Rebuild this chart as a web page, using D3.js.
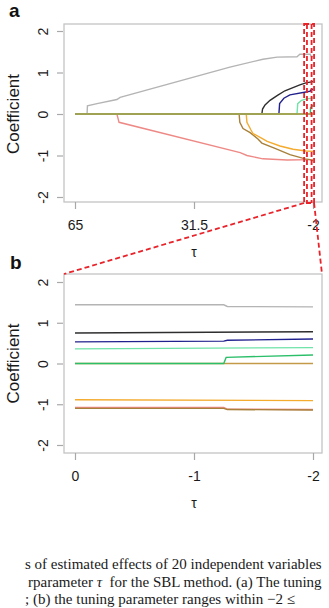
<!DOCTYPE html>
<html>
<head>
<meta charset="utf-8">
<script src="https://cdn.jsdelivr.net/npm/d3@7"></script>
<style>
  body { margin: 0; background: #fff; }
  svg { display: block; }
</style>
</head>
<body>
<svg id="chart" width="329" height="608"></svg>
<script>

// tick labels
const tauTicksA = [65, 31.5, -2];
const tauTicksB = [0, -1, -2];
const coefTicks = [-2, -1, 0, 1, 2];

// panel a: [tau, coefficient] paths
const grayA = [[65,0],[61.6,0],[61.5,0.2],[58.8,0.25],[53.2,0.35],[52.3,0.4],[21.4,1.13],[12.1,1.32],[8.1,1.37],[2.5,1.38],[1.7,1.44],[-1.2,1.44],[-1.4,1.4],[-2,1.38]];
const salmonA = [[65,0],[53.2,0],[52.6,-0.2],[18.5,-0.93],[16.6,-1.0],[12.1,-1.08],[5.3,-1.11],[-2,-1.1]];
const brownA = [[65,0],[18.8,0],[18.6,-0.2],[17.7,-0.35],[15.7,-0.45],[13.5,-0.6],[12.4,-0.7],[8.7,-0.83],[4.5,-0.98],[0.2,-1.08],[-1.2,-1.1],[-2,-1.13]];
const orangeA = [[65,0],[16.8,0],[16.6,-0.2],[15.5,-0.38],[14.9,-0.47],[12.5,-0.58],[10.9,-0.66],[7.3,-0.77],[3.6,-0.85],[0,-0.89],[-2,-0.9]];
const blackA = [[65,0],[12.4,0],[12.2,0.12],[11.5,0.22],[10.1,0.33],[8,0.45],[5.9,0.56],[1.7,0.7],[0,0.75],[-2,0.78]];
const navyA = [[65,0],[7.6,0],[7.4,0.25],[6.2,0.38],[4.5,0.46],[0,0.53],[-1.25,0.55],[-1.3,0.57],[-2,0.6]];
const aquaA = [[65,0],[2.5,0],[2.3,0.25],[1.2,0.33],[0,0.36],[-2,0.39]];
const greenA = [[65,0],[-1.25,0],[-1.3,0.15],[-2,0.21]];
const zeroA = [[65,0],[-2,0]];

// panel b: zoom on -2 <= tau <= 0
const grayB = [[0,1.44],[-1.25,1.44],[-1.28,1.4],[-2,1.39]];
const blackB = [[0,0.75],[-2,0.78]];
const navyB = [[0,0.53],[-1.25,0.55],[-1.28,0.57],[-2,0.6]];
const aquaB = [[0,0.36],[-2,0.39]];
const greenB = [[0,0],[-1.25,0],[-1.27,0.15],[-2,0.21]];
const zeroB = [[0,0],[-2,0]];
const orangeB = [[0,-0.89],[-2,-0.91]];
const salmonB = [[0,-1.08],[-1.25,-1.08],[-1.28,-1.12],[-2,-1.13]];
const brownB = [[0,-1.1],[-1.25,-1.1],[-1.28,-1.13],[-2,-1.14]];

const colors = {
    gray: '#b4b4b4', salmon: '#ee8a86', brown: '#a8803a', orange: '#f4ab2e',
    black: '#2e2e2e', navy: '#22228f', aqua: '#6fe3a8', green: '#2cbf6a', zero: '#c39a48'
};

// R style labels: plain hyphen for negatives
const rLabel = d => (d < 0 ? '-' : '') + Math.abs(d);

const svg = d3.select('#chart');

function drawPanel(opt) {
    const {box, xDomain, xRange, yRange, ticks, series, label} = opt;

    const xScale = d3.scaleLinear().domain(xDomain).range(xRange);
    const yScale = d3.scaleLinear().domain([-2, 2]).range(yRange);

    const g = svg.append('g');

    const line = d3.line()
        .x(d => xScale(d[0]))
        .y(d => yScale(d[1]));

    g.selectAll('.path')
        .data(series)
        .join('path')
            .attr('fill', 'none')
            .attr('stroke', d => d.color)
            .attr('stroke-width', 1.4)
            .attr('d', d => line(d.values));

    // frame
    g.append('rect')
        .attr('x', box.x0)
        .attr('y', box.y0)
        .attr('width', box.x1 - box.x0)
        .attr('height', box.y1 - box.y0)
        .attr('fill', 'none')
        .attr('stroke', '#c4c4c4')
        .attr('stroke-width', 1.3);

    // axes
    const xAxis = g.append('g')
        .attr('transform', `translate(0, ${box.y1})`)
        .call(d3.axisBottom(xScale).tickValues(ticks).tickSize(7).tickSizeOuter(0).tickFormat(rLabel));
    const yAxis = g.append('g')
        .attr('transform', `translate(${box.x0 - 1}, 0)`)
        .call(d3.axisLeft(yScale).tickValues(coefTicks).tickSize(6).tickSizeOuter(0).tickFormat(rLabel));

    [xAxis, yAxis].forEach(a => {
        a.select('.domain').remove();
        a.selectAll('line').attr('stroke', '#a8a8a8').attr('stroke-width', 1.2);
        a.selectAll('text')
            .style('font-family', 'Liberation Sans, Arial, sans-serif')
            .style('font-size', '14px')
            .attr('fill', '#1a1a1a');
    });
    xAxis.selectAll('text').attr('y', 27.5).attr('dy', 0);
    yAxis.selectAll('.tick text')
        .attr('x', 0).attr('y', 0).attr('dy', 0)
        .attr('transform', 'translate(-15, 0) rotate(-90)')
        .style('text-anchor', 'middle');

    g.append('text')
        .attr('transform', `translate(19, ${(yRange[0] + yRange[1]) / 2}) rotate(-90)`)
        .style('text-anchor', 'middle')
        .style('font-family', 'Liberation Sans, Arial, sans-serif')
        .style('font-size', '17px')
        .attr('fill', '#1a1a1a')
        .text('Coefficient');

    g.append('text')
        .attr('x', (xRange[0] + xRange[1]) / 2)
        .attr('y', box.y1 + 55)
        .style('text-anchor', 'middle')
        .style('font-family', 'Liberation Sans, Arial, sans-serif')
        .style('font-size', '14px')
        .attr('fill', '#1a1a1a')
        .text('τ');

    g.append('text')
        .attr('x', label.x)
        .attr('y', label.y)
        .style('font-family', 'Liberation Sans, Arial, sans-serif')
        .style('font-size', '19px')
        .style('font-weight', 'bold')
        .attr('fill', '#111')
        .text(label.text);

    return {xScale, yScale};
}

const panelA = drawPanel({
    box: {x0: 64, x1: 322, y0: 24, y1: 202},
    xDomain: [65, -2], xRange: [75, 313], yRange: [197, 31],
    ticks: tauTicksA,
    label: {text: 'a', x: 9, y: 17},
    series: [
        {values: grayA, color: colors.gray},
        {values: salmonA, color: colors.salmon},
        {values: brownA, color: colors.brown},
        {values: orangeA, color: colors.orange},
        {values: blackA, color: colors.black},
        {values: navyA, color: colors.navy},
        {values: aquaA, color: colors.aqua},
        {values: greenA, color: colors.green},
        {values: zeroA, color: colors.zero}
    ]
});

const panelB = drawPanel({
    box: {x0: 64, x1: 322, y0: 274, y1: 453},
    xDomain: [0, -2], xRange: [75, 313], yRange: [445, 282],
    ticks: tauTicksB,
    label: {text: 'b', x: 10, y: 269},
    series: [
        {values: grayB, color: colors.gray},
        {values: blackB, color: colors.black},
        {values: navyB, color: colors.navy},
        {values: aquaB, color: colors.aqua},
        {values: zeroB, color: colors.zero},
        {values: greenB, color: colors.green},
        {values: orangeB, color: colors.orange},
        {values: salmonB, color: colors.salmon},
        {values: brownB, color: colors.brown}
    ]
});

// red dashed zoom box on panel a, linked to panel b frame
const zoomTau = [0.5, -2.3];
const zoomInner = [-0.3, -1.6];
const xa = panelA.xScale;
const red = svg.append('g')
    .attr('fill', 'none')
    .attr('stroke', '#e8232a')
    .attr('stroke-width', 1.8)
    .attr('stroke-dasharray', '5,3');

red.append('rect')
    .attr('x', xa(zoomTau[0]))
    .attr('y', 24)
    .attr('width', xa(zoomTau[1]) - xa(zoomTau[0]))
    .attr('height', 203 - 24);
zoomInner.forEach(t => {
    red.append('line')
        .attr('x1', xa(t)).attr('x2', xa(t))
        .attr('y1', 24).attr('y2', 203);
});
red.append('line')
    .attr('x1', xa(zoomTau[0])).attr('y1', 203)
    .attr('x2', 64).attr('y2', 274);
red.append('line')
    .attr('x1', xa(zoomTau[1])).attr('y1', 203)
    .attr('x2', 322).attr('y2', 274);

// caption fragment, kept inside the picture
const captionLines = [
    {x: 25, y: 569, parts: [['s of estimated effects of 20 independent variables', false]]},
    {x: 28, y: 587, parts: [['rparameter ', false], ['τ', true], ['  for the SBL method. (a) The tuning', false]]},
    {x: 25, y: 604, parts: [['; (b) the tuning parameter ranges within −2 ≤', false]]}
];

captionLines.forEach(l => {
    const t = svg.append('text')
        .attr('x', l.x)
        .attr('y', l.y)
        .style('font-family', 'Liberation Serif, Times New Roman, serif')
        .style('font-size', '15px')
        .attr('fill', '#1a1a1a')
        .attr('xml:space', 'preserve');
    l.parts.forEach(p => {
        t.append('tspan')
            .style('font-style', p[1] ? 'italic' : 'normal')
            .text(p[0]);
    });
});

</script>
</body>
</html>
